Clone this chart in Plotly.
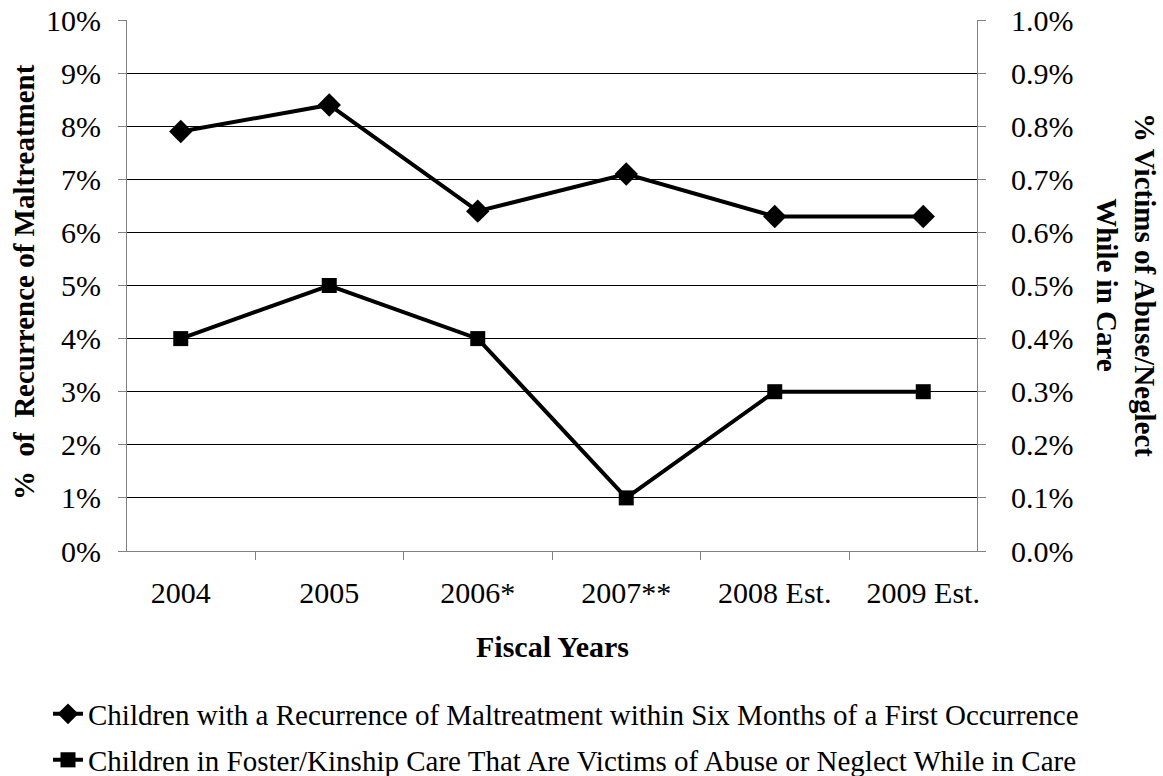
import plotly.graph_objects as go

years = ["2004", "2005", "2006*", "2007**", "2008 Est.", "2009 Est."]
recurrence = [0.079, 0.084, 0.064, 0.071, 0.063, 0.063]
victims = [0.004, 0.005, 0.004, 0.001, 0.003, 0.003]
name1 = "Children with a Recurrence of Maltreatment within Six Months of a First Occurrence"
name2 = "Children in Foster/Kinship Care That Are Victims of Abuse or Neglect While in Care"

FONT = "Liberation Serif"
TF = 30
fig = go.Figure()
fig.add_trace(go.Scatter(x=years, y=recurrence, name=name1, mode="lines+markers",
                         line=dict(color="black", width=4), legend="legend",
                         marker=dict(symbol="diamond", size=18, color="black")))
fig.add_trace(go.Scatter(x=years, y=victims, name=name2, mode="lines+markers", yaxis="y2",
                         line=dict(color="black", width=4), legend="legend2",
                         marker=dict(symbol="square", size=15, color="black")))

W, H = 1163, 776
L, R, T, B = 127, 977, 20, 551


def py(p):
    return (B - p) / (B - T)


def px(p):
    return (p - L) / (R - L)


leg_common = dict(orientation="v", xanchor="left", yanchor="middle",
                  xref="container", yref="container",
                  font=dict(size=29, family=FONT), itemwidth=30,
                  bgcolor="rgba(0,0,0,0)", borderwidth=0)
fig.update_layout(
    width=W, height=H,
    margin=dict(l=L, r=W - R, t=T, b=H - B, pad=0, autoexpand=False),
    paper_bgcolor="white", plot_bgcolor="white",
    font=dict(family=FONT, size=TF, color="black"),
    showlegend=True,
    legend=dict(x=48 / W, y=1 - 714 / H, **leg_common),
    legend2=dict(x=48 / W, y=1 - 760 / H, **leg_common),
    xaxis=dict(type="category", showline=True, linecolor="#808080", linewidth=1,
               ticks="outside", tickson="boundaries", ticklen=8, tickcolor="#808080",
               showgrid=False, tickfont=dict(size=TF), automargin=False, ticklabelstandoff=15),
    yaxis=dict(range=[0, 0.1], dtick=0.01, tickformat=".0%", showline=True,
               linecolor="#808080", linewidth=1, ticks="outside", ticklen=8,
               tickcolor="#808080", showgrid=True, gridcolor="black", gridwidth=1,
               tickfont=dict(size=TF), zeroline=False, automargin=False,
               ticklabelstandoff=11),
    yaxis2=dict(range=[0, 0.01], dtick=0.001, tickformat=".1%", overlaying="y", side="right",
                showline=True, linecolor="#808080", linewidth=1, ticks="outside", ticklen=8,
                tickcolor="#808080", showgrid=False, tickfont=dict(size=TF), zeroline=False,
                automargin=False, ticklabelstandoff=19),
    annotations=[
        dict(text="<b>Fiscal Years</b>", xref="paper", yref="paper",
             x=0.5, y=py(646), xanchor="center", yanchor="middle",
             showarrow=False, font=dict(size=30)),
        dict(text="<b>%\u00a0 of\u00a0 Recurrence of Maltreatment</b>", xref="paper", yref="paper",
             x=px(24), y=py(282), xanchor="center", yanchor="middle",
             textangle=-90, showarrow=False, font=dict(size=29)),
        dict(text="<b>% Victims of Abuse/Neglect<br>While in Care</b>", xref="paper", yref="paper",
             x=px(1126), y=py(285), xanchor="center", yanchor="middle",
             textangle=90, showarrow=False, font=dict(size=29)),
    ],
)
fig.write_html("out.html", config={"displayModeBar": False},
               post_script="document.body.style.margin='0px';document.body.style.padding='0px';")
